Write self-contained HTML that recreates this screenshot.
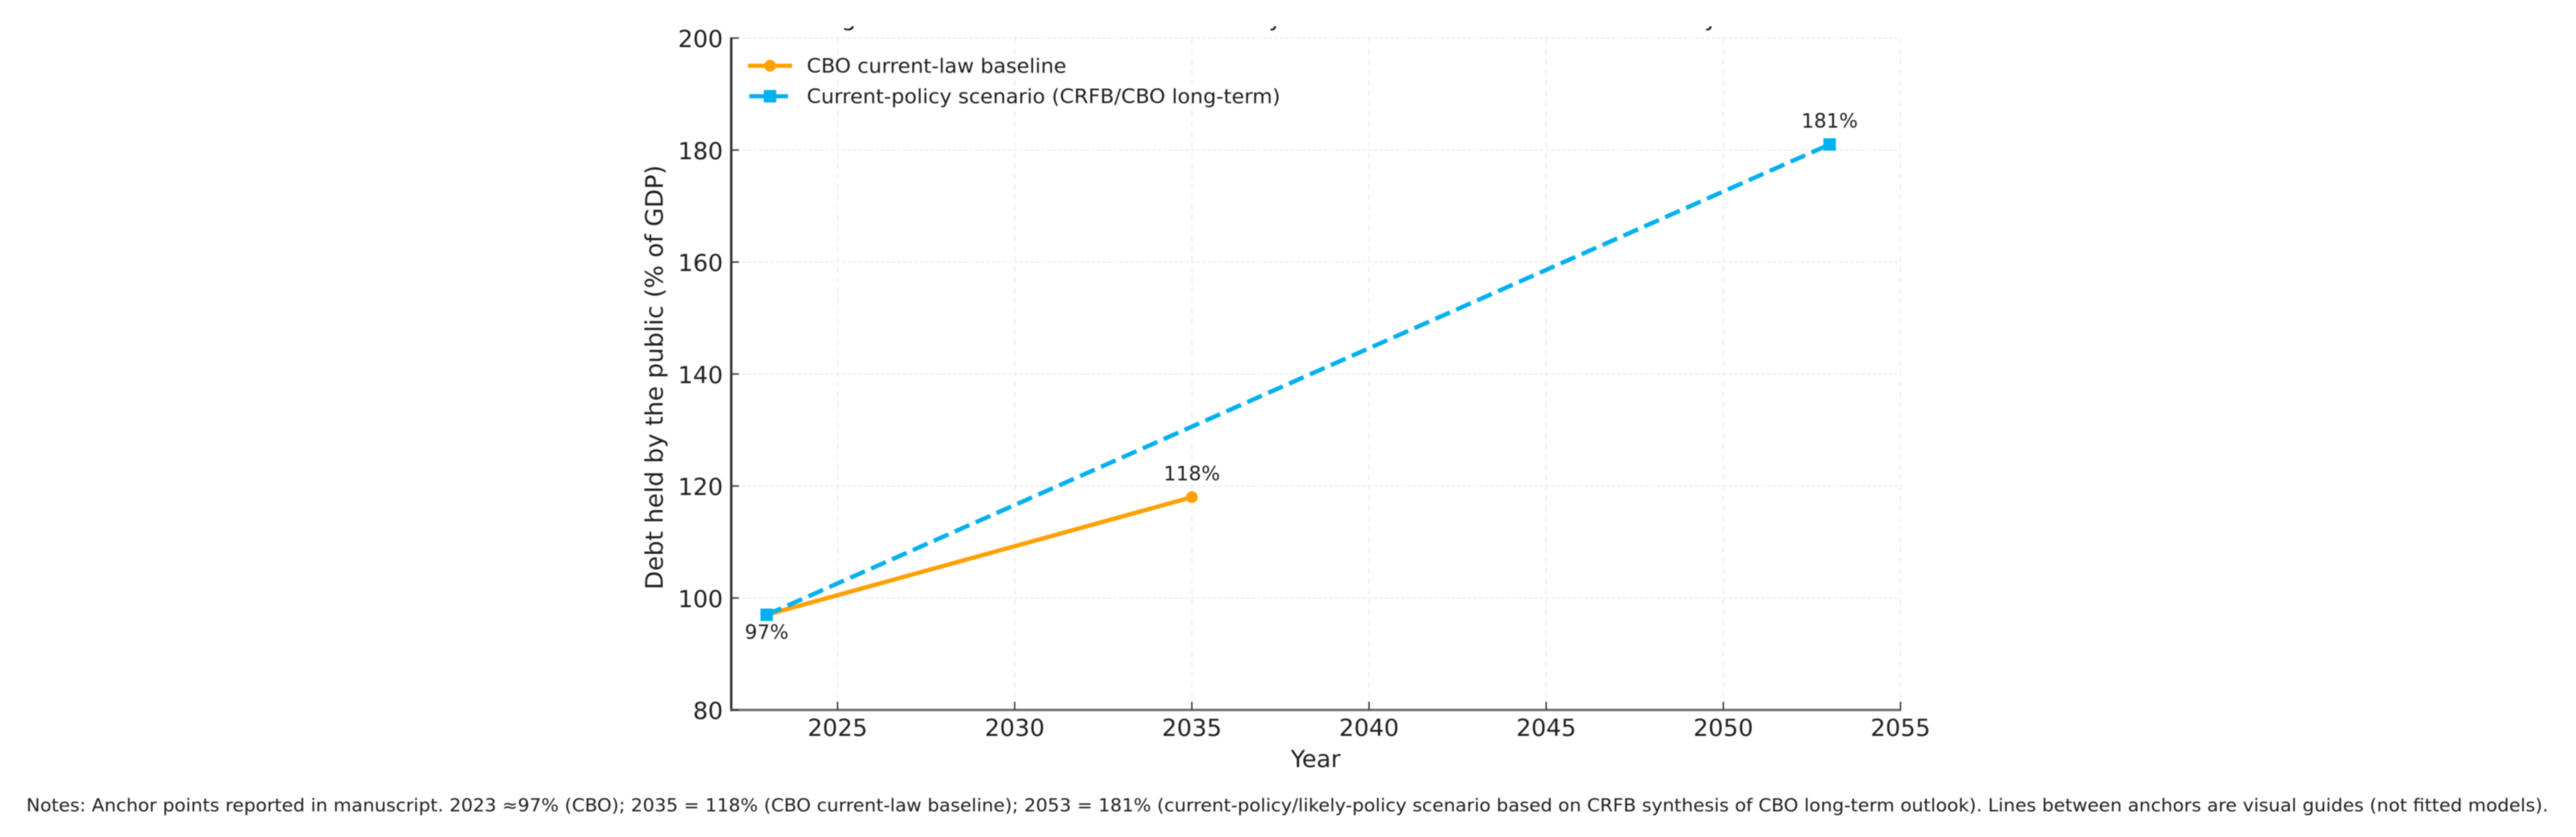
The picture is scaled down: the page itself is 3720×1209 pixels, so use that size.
<!DOCTYPE html>
<html lang="en">
<head>
<meta charset="utf-8">
<title>Debt held by the public projections</title>
<style>
  html, body { margin: 0; padding: 0; background: #fff; width: 3720px; height: 1209px; overflow: hidden; }
  svg { display: block; filter: blur(0.9px); }
  text { font-family: "DejaVu Sans", "Liberation Sans", sans-serif; fill: #1f1f1f; }
</style>
</head>
<body>
<svg id="chart" xmlns="http://www.w3.org/2000/svg" width="3720" height="1209" viewBox="0 0 3720 1209">
  <rect x="0" y="0" width="3720" height="1209" fill="#ffffff"/>
  <defs>
    <clipPath id="title-clip"><rect x="1100" y="38" width="1600" height="14"/></clipPath>
  </defs>
  <g clip-path="url(#title-clip)" font-size="34">
    <text x="1215" y="37">g</text>
    <text x="1832" y="37">y</text>
    <text x="2461" y="37">y</text>
  </g>
  <g id="grid"></g>
  <g id="series"></g>
  <g id="axes"></g>
  <g id="annotations"></g>

  <text x="1900" y="1108" font-size="34" text-anchor="middle">Year</text>
  <text transform="translate(957,545) rotate(-90)" font-size="35" text-anchor="middle">Debt held by the public (% of GDP)</text>

  <g>
    <g>
      <line x1="1080" y1="95" x2="1144" y2="95" stroke="#ffa000" stroke-width="6"/>
      <circle cx="1112" cy="95" r="8.5" fill="#ffa000"/>
      <text x="1165" y="105" font-size="28.5" textLength="375" lengthAdjust="spacingAndGlyphs">CBO current-law baseline</text>
    </g>
    <g>
      <line x1="1082" y1="139" x2="1140" y2="139" stroke="#00b0f0" stroke-width="6" stroke-dasharray="23 10"/>
      <rect x="1103" y="130" width="18" height="18" fill="#00b0f0"/>
      <text x="1165" y="149" font-size="28.5" textLength="684" lengthAdjust="spacingAndGlyphs">Current-policy scenario (CRFB/CBO long-term)</text>
    </g>
  </g>

  <text x="38" y="1172" font-size="25.5" textLength="3642" lengthAdjust="spacingAndGlyphs">Notes: Anchor points reported in manuscript. 2023 ≈97% (CBO); 2035 = 118% (CBO current-law baseline); 2053 = 181% (current-policy/likely-policy scenario based on CRFB synthesis of CBO long-term outlook). Lines between anchors are visual guides (not fitted models).</text>
</svg>

<script>
const xTicks = [2025, 2030, 2035, 2040, 2045, 2050, 2055];
const yTicks = [80, 100, 120, 140, 160, 180, 200];
const baselineYears = [2023, 2035];
const baselineValues = [97, 118];
const policyYears = [2023, 2053];
const policyValues = [97, 181];
const annotationYears = [2023, 2035, 2053];
const annotationValues = [97, 118, 181];

const NS = 'http://www.w3.org/2000/svg';
const plot = { left: 1056, right: 2744.5, top: 55, bottom: 1025.5 };
const domainX = [2022, 2055];
const domainY = [80, 200];

function xScale(v) {
  return plot.left + (v - domainX[0]) / (domainX[1] - domainX[0]) * (plot.right - plot.left);
}
function yScale(v) {
  return plot.bottom - (v - domainY[0]) / (domainY[1] - domainY[0]) * (plot.bottom - plot.top);
}
function make(tag, parent, attrs, content) {
  const el = document.createElementNS(NS, tag);
  for (const k in attrs) el.setAttribute(k, attrs[k]);
  if (content !== undefined) el.textContent = content;
  parent.appendChild(el);
  return el;
}

const gridG = document.getElementById('grid');
const seriesG = document.getElementById('series');
const axesG = document.getElementById('axes');
const annG = document.getElementById('annotations');

xTicks.forEach(function (t) {
  const g = make('line', gridG, { x1: xScale(t), x2: xScale(t), y1: plot.top, y2: plot.bottom, stroke: '#ececec', 'stroke-width': 1.6, 'stroke-dasharray': '9 6' });
  
  
});
yTicks.forEach(function (t) {
  if (t === domainY[0]) return;
  const g = make('line', gridG, { x1: plot.left, x2: plot.right, y1: yScale(t), y2: yScale(t), stroke: '#eaeaea', 'stroke-width': 1.6, 'stroke-dasharray': '5 3' });
  
  
});

const baselinePath = make('polyline', seriesG, {
  points: baselineYears.map(function (y, i) { return xScale(y) + ',' + yScale(baselineValues[i]); }).join(' '),
  fill: 'none', stroke: '#ffa000', 'stroke-width': 6.2
});


baselineYears.forEach(function (y, i) {
  const c = make('circle', seriesG, { cx: xScale(y), cy: yScale(baselineValues[i]), r: 8.5, fill: '#ffa000' });
  
  
});

const policyPath = make('polyline', seriesG, {
  points: policyYears.map(function (y, i) { return xScale(y) + ',' + yScale(policyValues[i]); }).join(' '),
  fill: 'none', stroke: '#00b0f0', 'stroke-width': 6.2, 'stroke-dasharray': '23 10'
});


policyYears.forEach(function (y, i) {
  const r = make('rect', seriesG, { x: xScale(y) - 9, y: yScale(policyValues[i]) - 9, width: 18, height: 18, fill: '#00b0f0' });
  
  
});

const leftSpine = make('line', axesG, { x1: plot.left, x2: plot.left, y1: plot.top - 1, y2: plot.bottom + 2, stroke: '#2e2e2e', 'stroke-width': 3.4 });


const bottomSpine = make('line', axesG, { x1: plot.left - 1.5, x2: plot.right + 1, y1: plot.bottom, y2: plot.bottom, stroke: '#6f6f6f', 'stroke-width': 3.6 });



xTicks.forEach(function (t) {
  const m = make('line', axesG, { x1: xScale(t), x2: xScale(t), y1: plot.bottom, y2: plot.bottom - 12, stroke: '#333333', 'stroke-width': 2 });
  
  
  const l = make('text', axesG, { x: xScale(t), y: 1063, 'font-size': 34, 'text-anchor': 'middle' }, String(t));
  
  
});
yTicks.forEach(function (t) {
  const m = make('line', axesG, { x1: plot.left, x2: plot.left + 11, y1: yScale(t), y2: yScale(t), stroke: '#333333', 'stroke-width': 2 });
  
  
  const l = make('text', axesG, { x: 1044, y: yScale(t) + 13, 'font-size': 34, 'text-anchor': 'end' }, String(t));
  
  
});

annotationYears.forEach(function (y, i) {
  const below = i === 0;
  const a = make('text', annG, { x: xScale(y), y: yScale(annotationValues[i]) + (below ? 35 : -24), 'font-size': 28.5, 'text-anchor': 'middle' }, annotationValues[i] + '%');
  
  
});
</script>
</body>
</html>
